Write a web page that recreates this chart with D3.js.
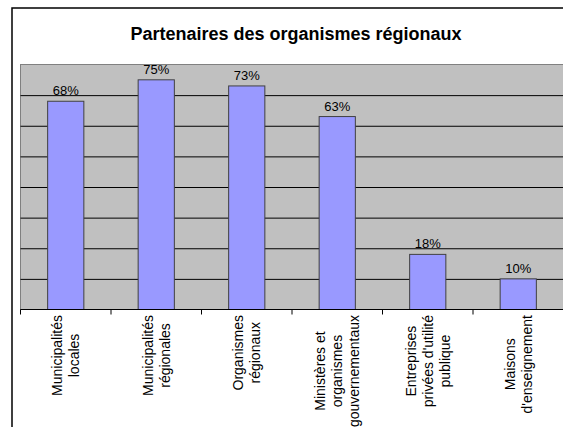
<!DOCTYPE html>
<html><head><meta charset="utf-8">
<script src="https://cdn.jsdelivr.net/npm/d3@7"></script>
<style>
html,body{margin:0;padding:0;background:#fff;}
svg{display:block;font-family:"Liberation Sans",Arial,sans-serif;}
</style></head>
<body>
<svg id="c" width="563" height="427"></svg>
<script>
const title = "Partenaires des organismes régionaux";
const categories = [
  ["Municipalités", "locales"],
  ["Municipalités", "régionales"],
  ["Organismes", "régionaux"],
  ["Ministères et", "organismes", "gouvernementaux"],
  ["Entreprises", "privées d'utilité", "publique"],
  ["Maisons", "d'enseignement"]
];
const values = [0.68, 0.75, 0.73, 0.63, 0.18, 0.10];
const yTicks = [0, 0.1, 0.2, 0.3, 0.4, 0.5, 0.6, 0.7, 0.8];

(function () {
const svg = d3.select("#c");
const pL = 20.5, pR = 563.5, pT = 64.5, pB = 309.5;
const keys = categories.map((c, i) => i);

const x = d3.scaleBand().domain(keys).range([pL, pR]).paddingInner(0.6).paddingOuter(0.3);
const y = d3.scaleLinear().domain([0, 0.8]).range([pB, pT]);

// outer frame
svg.append("rect").attr("x", 12).attr("y", 8).attr("width", 600).attr("height", 500)
  .attr("fill", "#fff").attr("stroke", "#000").attr("stroke-width", 1.5);

// title
svg.append("text").attr("x", 296).attr("y", 40).attr("text-anchor", "middle")
  .attr("font-size", 18).attr("font-weight", "bold").attr("fill", "#000").text(title);

// plot area
svg.append("rect").attr("x", pL).attr("y", pT).attr("width", pR - pL + 5).attr("height", pB - pT)
  .attr("fill", "#c0c0c0").attr("stroke", "#808080").attr("stroke-width", 1);

// gridlines
const grid = svg.append("g").attr("transform", `translate(${pL},0)`)
  .call(d3.axisLeft(y).tickValues(yTicks.slice(1, -1)).tickSize(-(pR - pL + 5)).tickFormat(""));
grid.select(".domain").remove();
grid.selectAll("line").attr("stroke", "#000").attr("stroke-width", 1);

// bars
svg.append("g").selectAll("rect").data(values).join("rect")
  .attr("x", (d, i) => x(i)).attr("y", d => y(d))
  .attr("width", x.bandwidth()).attr("height", d => y(0) - y(d))
  .attr("fill", "#9999ff").attr("stroke", "#404040").attr("stroke-width", 1);

// value labels
svg.append("g").selectAll("text").data(values).join("text")
  .attr("x", (d, i) => x(i) + x.bandwidth() / 2).attr("y", d => y(d) - 6)
  .attr("text-anchor", "middle").attr("font-size", 13).attr("fill", "#000")
  .text(d => Math.round(d * 100) + "%");

// x axis
const xAxis = svg.append("g").attr("transform", `translate(0,${pB})`)
  .call(d3.axisBottom(x).tickSize(0).tickFormat(""));
xAxis.select(".domain").attr("stroke", "#000").attr("d", `M${pL},0H${pR + 5}`);
const step = x.step();
const bounds = keys.map(i => x(i) - step * x.paddingInner() / 2)
  .concat([x(keys.length - 1) + x.bandwidth() + step * x.paddingInner() / 2]);
xAxis.selectAll(".btick").data(bounds).join("line").attr("class", "btick")
  .attr("x1", d => d).attr("x2", d => d).attr("y1", 0).attr("y2", 5)
  .attr("stroke", "#000");

// category labels (rotated, lines centered, block top-aligned)
const fs = 14, lh = 17, labelTop = 315;
categories.forEach((lines, i) => {
  const cx = x(i) + x.bandwidth() / 2;
  const g = svg.append("g");
  const texts = lines.map(l => g.append("text").attr("font-size", fs).attr("fill", "#000")
    .attr("text-anchor", "middle").text(l));
  const maxW = d3.max(texts, t => t.node().getComputedTextLength());
  const cy = labelTop + maxW / 2;
  texts.forEach((t, j) => {
    const bx = cx + (j - (lines.length - 1) / 2) * lh + 5;
    t.attr("transform", `translate(${bx},${cy}) rotate(-90)`);
  });
});
})();
</script>
</body></html>
